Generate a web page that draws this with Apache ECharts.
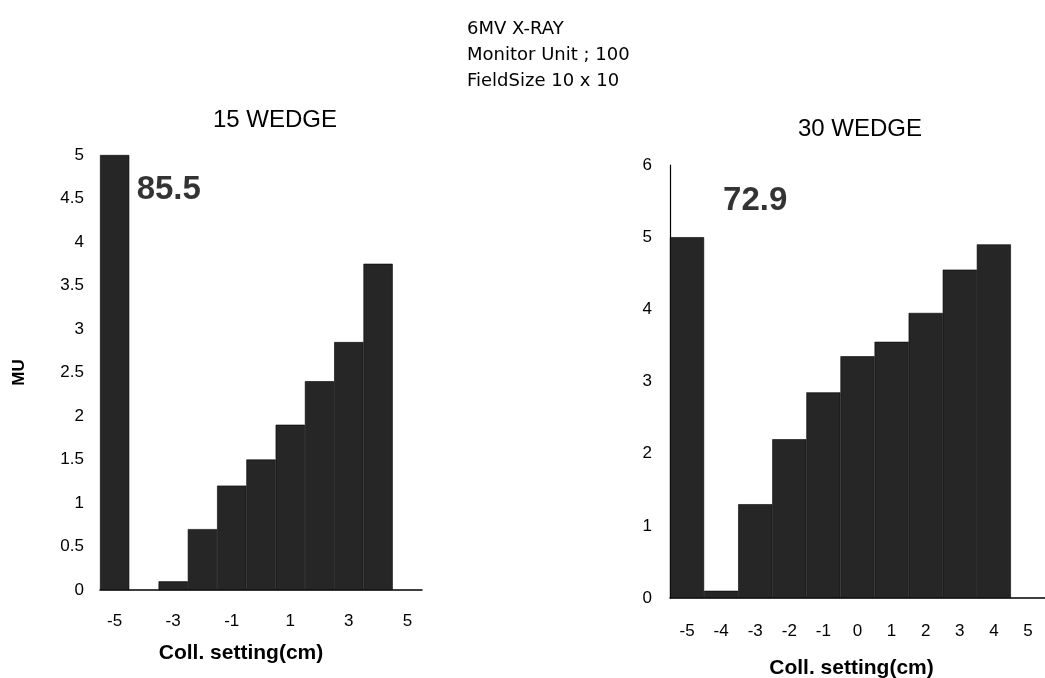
<!DOCTYPE html>
<html><head><meta charset="utf-8">
<script src="https://cdn.jsdelivr.net/npm/echarts@6/dist/echarts.min.js"></script>
<style>html,body{margin:0;padding:0;background:#fff}#c{width:1045px;height:678px}</style>
</head><body><div id="c"></div>
<script>
const categories = ['-5','-4','-3','-2','-1','0','1','2','3','4','5'];
const wedge15 = [5, null, 0.1, 0.7, 1.2, 1.5, 1.9, 2.4, 2.85, 3.75, null];
const wedge30 = [5, 0.1, 1.3, 2.2, 2.85, 3.35, 3.55, 3.95, 4.55, 4.9, null];
const note15 = [['-5', 4.6, '85.5']];
const note30 = [['-3', 5.5, '72.9']];
const headerLines = ['6MV X-RAY', 'Monitor Unit ; 100', 'FieldSize 10 x 10'];
const leftTitle = '15 WEDGE';
const rightTitle = '30 WEDGE';
const xName = 'Coll. setting(cm)';
const yName = 'MU';

const barColor = '#262626';
const font = 'Liberation Sans, Arial, sans-serif';
const chart = echarts.init(document.getElementById('c'), null, {renderer: 'canvas'});
chart.setOption({
  animation: false,
  backgroundColor: '#fff',
  title: [
    {text: headerLines.join('\n'), left: 462, top: 11,
     textStyle: {fontFamily: 'DejaVu Sans, sans-serif', fontSize: 18, fontWeight: 'normal', lineHeight: 26, color: '#000'}},
    {text: leftTitle, left: 270, top: 103, textAlign: 'center',
     textStyle: {fontFamily: font, fontSize: 24, fontWeight: 'normal', color: '#000'}},
    {text: rightTitle, left: 855, top: 112, textAlign: 'center',
     textStyle: {fontFamily: font, fontSize: 24, fontWeight: 'normal', color: '#000'}}
  ],
  grid: [
    {left: 100, width: 322, top: 155, bottom: 88, containLabel: false, outerBoundsMode: 'none'},
    {left: 670, width: 375, top: 165, bottom: 80, containLabel: false, outerBoundsMode: 'none'}
  ],
  xAxis: [
    {type: 'category', gridIndex: 0, data: categories, boundaryGap: true,
     axisLine: {lineStyle: {color: '#000', width: 1.5}}, axisTick: {show: false},
     axisLabel: {interval: 1, margin: 23, fontSize: 17, color: '#000', fontFamily: font},
     name: xName, nameLocation: 'middle', nameGap: 53,
     nameTextStyle: {fontSize: 21, fontWeight: 'bold', color: '#000', fontFamily: font, padding: [0, 40, 0, 0]}},
    {type: 'category', gridIndex: 1, data: categories, boundaryGap: true,
     axisLine: {lineStyle: {color: '#000', width: 1.5}}, axisTick: {show: false},
     axisLabel: {interval: 0, margin: 25, fontSize: 17, color: '#000', fontFamily: font},
     name: xName, nameLocation: 'middle', nameGap: 60,
     nameTextStyle: {fontSize: 21, fontWeight: 'bold', color: '#000', fontFamily: font, padding: [0, 12, 0, 0]}}
  ],
  yAxis: [
    {type: 'value', gridIndex: 0, min: 0, max: 5, interval: 0.5,
     splitLine: {show: false}, axisLine: {show: false}, axisTick: {show: false},
     axisLabel: {margin: 16, fontSize: 17, color: '#000', fontFamily: font},
     name: yName, nameLocation: 'middle', nameGap: 72, nameRotate: 90,
     nameTextStyle: {fontSize: 17, fontWeight: 'bold', color: '#000', fontFamily: font}},
    {type: 'value', gridIndex: 1, min: 0, max: 6, interval: 1,
     splitLine: {show: false}, axisLine: {show: true, lineStyle: {color: '#000', width: 1.2}}, axisTick: {show: false},
     axisLabel: {margin: 18, fontSize: 17, color: '#000', fontFamily: font}}
  ],
  series: [
    {type: 'bar', xAxisIndex: 0, yAxisIndex: 0, data: wedge15, barCategoryGap: '0%',
     itemStyle: {color: barColor, borderColor: '#000', borderWidth: 0.6}},
    {type: 'bar', xAxisIndex: 1, yAxisIndex: 1, data: wedge30, barCategoryGap: '0%',
     itemStyle: {color: barColor, borderColor: '#000', borderWidth: 0.6}},
    {type: 'scatter', xAxisIndex: 0, yAxisIndex: 0, symbolSize: 0, data: note15,
     label: {show: true, position: 'right', distance: 22, formatter: p => p.data[2],
       fontSize: 33, fontWeight: 'bold', color: '#000', fontFamily: font}},
    {type: 'scatter', xAxisIndex: 1, yAxisIndex: 1, symbolSize: 0, data: note30,
     label: {show: true, position: 'inside', formatter: p => p.data[2],
       fontSize: 33, fontWeight: 'bold', color: '#000', fontFamily: font}}
  ]
});
</script></body></html>
